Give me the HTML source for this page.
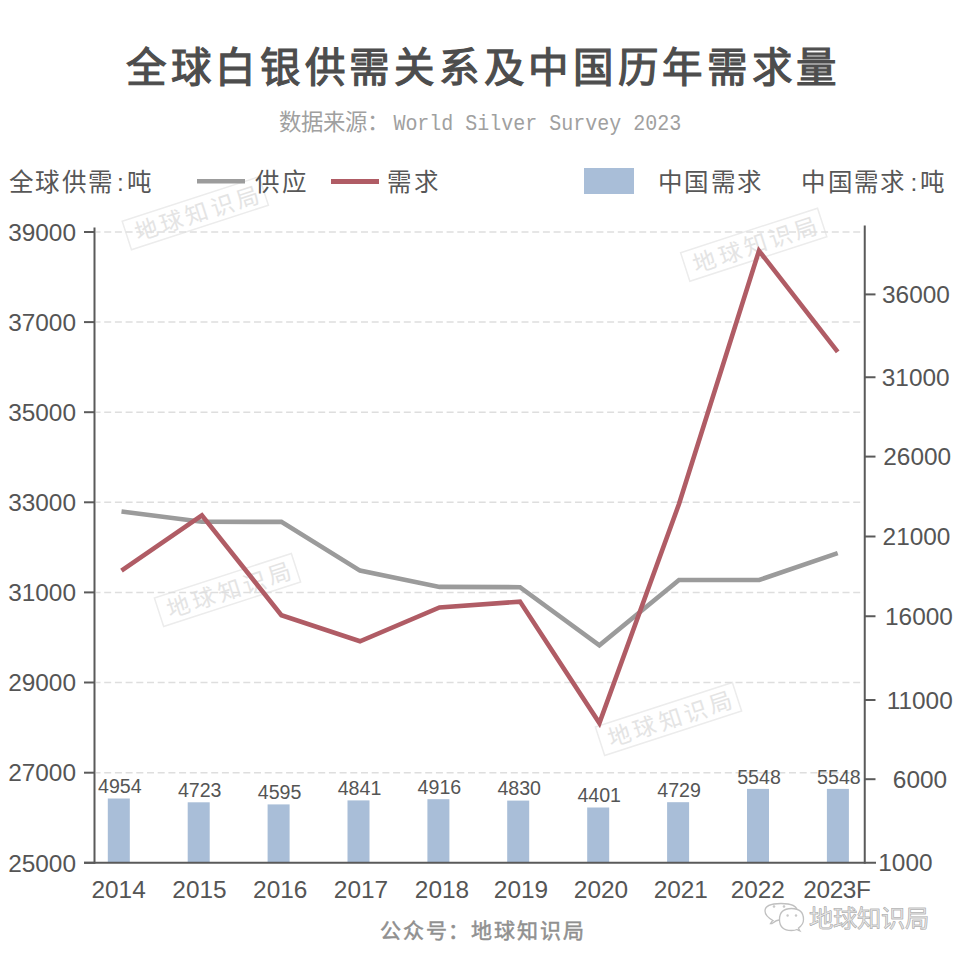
<!DOCTYPE html>
<html lang="zh-CN"><head><meta charset="utf-8"><style>
html,body{margin:0;padding:0;background:#fff;}
svg{display:block;}
text{font-family:"Liberation Sans",sans-serif;}
.tt{font-size:40.5px;fill:#4d4d4d;stroke:#4d4d4d;stroke-width:1.2px;letter-spacing:4.7px;}
.st{font-family:"Liberation Mono",monospace;font-size:20px;fill:#a0a0a0;}
.st1{font-size:22.4px;fill:#a0a0a0;}
.lg{font-size:24.5px;fill:#575757;letter-spacing:2.3px;}
.ax{font-size:24.4px;fill:#555;}
.bl{font-size:19.6px;fill:#555;}
.wm{font-size:23px;fill:#e4e4e4;letter-spacing:3.5px;}
.ft{font-size:21px;fill:#909090;stroke:#909090;stroke-width:0.5px;letter-spacing:1.9px;}
.wx{font-size:24.3px;fill:#e6e6e6;stroke:#a9a9a9;stroke-width:0.45;}
</style></head><body>
<svg width="960" height="960" viewBox="0 0 960 960">
<rect width="960" height="960" fill="#fff"/>
<g transform="translate(195.3,213.2) rotate(-18)"><rect x="-72" y="-15" width="144" height="30" fill="none" stroke="#ececec" stroke-width="1.5"/><text x="3" y="9" text-anchor="middle" class="wm">地球知识局</text></g>
<g transform="translate(753.7,244.7) rotate(-18)"><rect x="-72" y="-15" width="144" height="30" fill="none" stroke="#ececec" stroke-width="1.5"/><text x="3" y="9" text-anchor="middle" class="wm">地球知识局</text></g>
<g transform="translate(227.5,590) rotate(-18)"><rect x="-72" y="-15" width="144" height="30" fill="none" stroke="#ececec" stroke-width="1.5"/><text x="3" y="9" text-anchor="middle" class="wm">地球知识局</text></g>
<g transform="translate(668.5,719) rotate(-18)"><rect x="-72" y="-15" width="144" height="30" fill="none" stroke="#ececec" stroke-width="1.5"/><text x="3" y="9" text-anchor="middle" class="wm">地球知识局</text></g>
<line x1="96" y1="232.0" x2="864" y2="232.0" stroke="#dedede" stroke-width="1.5" stroke-dasharray="7 3.7" stroke-dashoffset="2.5"/>
<line x1="96" y1="322.1" x2="864" y2="322.1" stroke="#dedede" stroke-width="1.5" stroke-dasharray="7 3.7" stroke-dashoffset="2.5"/>
<line x1="96" y1="412.2" x2="864" y2="412.2" stroke="#dedede" stroke-width="1.5" stroke-dasharray="7 3.7" stroke-dashoffset="2.5"/>
<line x1="96" y1="502.3" x2="864" y2="502.3" stroke="#dedede" stroke-width="1.5" stroke-dasharray="7 3.7" stroke-dashoffset="2.5"/>
<line x1="96" y1="592.4" x2="864" y2="592.4" stroke="#dedede" stroke-width="1.5" stroke-dasharray="7 3.7" stroke-dashoffset="2.5"/>
<line x1="96" y1="682.5" x2="864" y2="682.5" stroke="#dedede" stroke-width="1.5" stroke-dasharray="7 3.7" stroke-dashoffset="2.5"/>
<line x1="96" y1="772.7" x2="864" y2="772.7" stroke="#dedede" stroke-width="1.5" stroke-dasharray="7 3.7" stroke-dashoffset="2.5"/>
<rect x="107.8" y="798.5" width="22" height="64.2" fill="#a9bed8"/>
<text x="119.8" y="793.3" class="bl" text-anchor="middle">4954</text>
<rect x="187.7" y="802.3" width="22" height="60.5" fill="#a9bed8"/>
<text x="199.7" y="797.1" class="bl" text-anchor="middle">4723</text>
<rect x="267.6" y="804.4" width="22" height="58.4" fill="#a9bed8"/>
<text x="279.6" y="799.2" class="bl" text-anchor="middle">4595</text>
<rect x="347.5" y="800.4" width="22" height="62.4" fill="#a9bed8"/>
<text x="359.5" y="795.2" class="bl" text-anchor="middle">4841</text>
<rect x="427.4" y="799.2" width="22" height="63.6" fill="#a9bed8"/>
<text x="439.4" y="794.0" class="bl" text-anchor="middle">4916</text>
<rect x="507.2" y="800.6" width="22" height="62.2" fill="#a9bed8"/>
<text x="519.2" y="795.4" class="bl" text-anchor="middle">4830</text>
<rect x="587.2" y="807.5" width="22" height="55.2" fill="#a9bed8"/>
<text x="599.2" y="802.3" class="bl" text-anchor="middle">4401</text>
<rect x="667.1" y="802.2" width="22" height="60.6" fill="#a9bed8"/>
<text x="679.1" y="797.0" class="bl" text-anchor="middle">4729</text>
<rect x="747.0" y="788.9" width="22" height="73.9" fill="#a9bed8"/>
<text x="759.0" y="783.7" class="bl" text-anchor="middle">5548</text>
<rect x="826.9" y="788.9" width="22" height="73.9" fill="#a9bed8"/>
<text x="838.9" y="783.7" class="bl" text-anchor="middle">5548</text>
<polyline points="121.5,511.5 201.9,521.8 281.4,521.9 360,570.6 439.5,586.9 520,587.2 599.4,645.3 679,580 759.2,580 837.7,553.1" fill="none" stroke="#9b9b9b" stroke-width="4.6" stroke-linejoin="miter"/>
<polyline points="121.5,570.7 201.9,515.4 281.4,615.2 360,641.25 439.5,607.5 520,601.6 599.4,723.1 679,504 759,250.75 837.7,351.8" fill="none" stroke="#b05c65" stroke-width="4.6" stroke-linejoin="miter"/>
<line x1="94.5" y1="227.5" x2="94.5" y2="863.75" stroke="#5a5a5a" stroke-width="2"/>
<line x1="864.75" y1="225.5" x2="864.75" y2="863.75" stroke="#5a5a5a" stroke-width="2"/>
<line x1="84" y1="862.75" x2="876" y2="862.75" stroke="#5a5a5a" stroke-width="2"/>
<line x1="84" y1="232.0" x2="94.5" y2="232.0" stroke="#5a5a5a" stroke-width="2"/>
<text x="76" y="240.8" class="ax" text-anchor="end">39000</text>
<line x1="84" y1="322.1" x2="94.5" y2="322.1" stroke="#5a5a5a" stroke-width="2"/>
<text x="76" y="330.9" class="ax" text-anchor="end">37000</text>
<line x1="84" y1="412.2" x2="94.5" y2="412.2" stroke="#5a5a5a" stroke-width="2"/>
<text x="76" y="421.0" class="ax" text-anchor="end">35000</text>
<line x1="84" y1="502.3" x2="94.5" y2="502.3" stroke="#5a5a5a" stroke-width="2"/>
<text x="76" y="511.1" class="ax" text-anchor="end">33000</text>
<line x1="84" y1="592.4" x2="94.5" y2="592.4" stroke="#5a5a5a" stroke-width="2"/>
<text x="76" y="601.2" class="ax" text-anchor="end">31000</text>
<line x1="84" y1="682.5" x2="94.5" y2="682.5" stroke="#5a5a5a" stroke-width="2"/>
<text x="76" y="691.3" class="ax" text-anchor="end">29000</text>
<line x1="84" y1="772.7" x2="94.5" y2="772.7" stroke="#5a5a5a" stroke-width="2"/>
<text x="76" y="781.4" class="ax" text-anchor="end">27000</text>
<line x1="84" y1="862.8" x2="94.5" y2="862.8" stroke="#5a5a5a" stroke-width="2"/>
<text x="76" y="871.5" class="ax" text-anchor="end">25000</text>
<line x1="864.75" y1="294.4" x2="875.5" y2="294.4" stroke="#5a5a5a" stroke-width="2"/>
<text x="882" y="303.15" class="ax">36000</text>
<line x1="864.75" y1="377.25" x2="875.5" y2="377.25" stroke="#5a5a5a" stroke-width="2"/>
<text x="881.75" y="386.00" class="ax">31000</text>
<line x1="864.75" y1="456.6" x2="875.5" y2="456.6" stroke="#5a5a5a" stroke-width="2"/>
<text x="883.3" y="465.35" class="ax">26000</text>
<line x1="864.75" y1="536.5" x2="875.5" y2="536.5" stroke="#5a5a5a" stroke-width="2"/>
<text x="882.6" y="545.25" class="ax">21000</text>
<line x1="864.75" y1="616.25" x2="875.5" y2="616.25" stroke="#5a5a5a" stroke-width="2"/>
<text x="885" y="625.00" class="ax">16000</text>
<line x1="864.75" y1="700" x2="875.5" y2="700" stroke="#5a5a5a" stroke-width="2"/>
<text x="886.7" y="708.75" class="ax">11000</text>
<line x1="864.75" y1="779.2" x2="875.5" y2="779.2" stroke="#5a5a5a" stroke-width="2"/>
<text x="892.85" y="787.95" class="ax">6000</text>
<text x="878.3" y="871" class="ax">1000</text>
<text x="118.6" y="898" class="ax" text-anchor="middle">2014</text>
<text x="199.5" y="898" class="ax" text-anchor="middle">2015</text>
<text x="280.2" y="898" class="ax" text-anchor="middle">2016</text>
<text x="361" y="898" class="ax" text-anchor="middle">2017</text>
<text x="442" y="898" class="ax" text-anchor="middle">2018</text>
<text x="521" y="898" class="ax" text-anchor="middle">2019</text>
<text x="601" y="898" class="ax" text-anchor="middle">2020</text>
<text x="680.8" y="898" class="ax" text-anchor="middle">2021</text>
<text x="757.8" y="898" class="ax" text-anchor="middle">2022</text>
<text x="836.9" y="898" class="ax" text-anchor="middle" style="letter-spacing:-0.4px">2023F</text>
<text x="9" y="191" class="lg">全球供需</text><text x="117" y="191" class="lg">:</text><text x="126.75" y="191" class="lg">吨</text>
<line x1="197" y1="181.3" x2="245" y2="181.3" stroke="#9c9c9c" stroke-width="4.6"/>
<text x="255.4" y="191" class="lg">供应</text>
<line x1="331" y1="181.4" x2="379" y2="181.4" stroke="#b05c65" stroke-width="5"/>
<text x="387.4" y="191" class="lg">需求</text>
<rect x="584" y="168" width="50" height="26" fill="#a9bed8"/>
<text x="658.2" y="191" class="lg">中国需求</text>
<text x="801.3" y="191" class="lg">中国需求</text><text x="910.5" y="191" class="lg">:</text><text x="920" y="191" class="lg">吨</text>
<text x="126" y="82" class="tt">全球白银供需关系及中国历年需求量</text>
<text x="279.2" y="130" class="st1">数据来源：</text><text x="393.4" y="130" class="st" transform="translate(0,130) scale(1,1.12) translate(0,-130)">World Silver Survey 2023</text>
<text x="379.8" y="937.7" class="ft">公众号：地球知识局</text>
<g stroke="#c0c0c0" stroke-width="1.3" fill="#fff">
<path d="M770.5,923.5 Q772,921 773,920.5 Q765,916 765,911 Q765,903.5 781,903.5 Q797,903.5 797,911 Q797,918 781,919.5 Q776,920 772,923.5 Z"/>
<path d="M800,931 Q799,929.5 798.5,928 Q803.5,924.5 803.5,919.5 Q803.5,908.5 791.5,908.5 Q779.5,908.5 779.5,919.5 Q779.5,930.5 791.5,930.5 Q795,930.5 797,929.5 Q798.5,930.5 800,931 Z"/>
</g>
<g fill="#c8c8c8"><circle cx="774" cy="906.5" r="1.3"/><circle cx="784" cy="906.5" r="1.3"/><circle cx="787.6" cy="915.5" r="1.2"/><circle cx="796" cy="915.5" r="1.2"/></g>
<text x="809.3" y="927.1" class="wx" style="fill:#bdbdbd;stroke:#bdbdbd">地球知识局</text><text x="808.7" y="926.5" class="wx">地球知识局</text>
</svg></body></html>
